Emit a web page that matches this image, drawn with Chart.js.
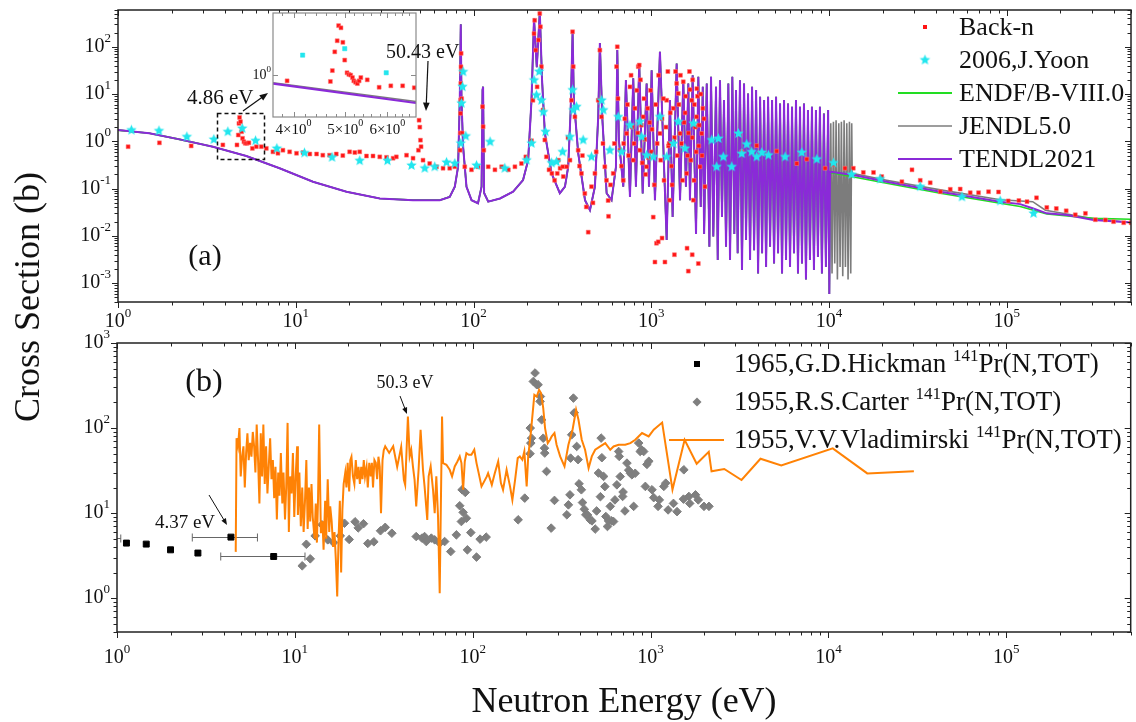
<!DOCTYPE html>
<html>
<head>
<meta charset="utf-8">
<title>141Pr total cross section</title>
<script src="https://cdn.jsdelivr.net/npm/chart.js@4.4.1/dist/chart.umd.min.js"></script>
<style>
  html, body { margin: 0; background: #fff; }
  #wrap { position: relative; width: 1136px; height: 722px; overflow: hidden;
          font-family: "Liberation Serif", "Times New Roman", serif; color: #111; }
  canvas { position: absolute; }
  #cA { left: 0; top: 0; }
  #cB { left: 0; top: 320px; }
  #cI { left: 230px; top: 0; }
  .title { position: absolute; font-size: 36px; white-space: nowrap; }
  #ytitle { left: 27px; top: 297px; transform: translate(-50%, -50%) rotate(-90deg); }
  #xtitle { left: 624px; top: 700px; transform: translate(-50%, -50%); }
</style>
</head>
<body>
<div id="wrap">
  <canvas id="cA" width="1136" height="340"></canvas>
  <canvas id="cB" width="1136" height="402"></canvas>
  <canvas id="cI" width="240" height="150"></canvas>
  <div class="title" id="ytitle">Cross Section (b)</div>
  <div class="title" id="xtitle">Neutron Energy (eV)</div>
</div>
<script>
// ---- panel (a): Back-n measurement ----
const backnE = [1.14, 1.71, 2.58, 3.89, 4.67, 4.75, 4.79, 4.83, 4.89, 4.96,
  5.02, 5.11, 5.20, 5.31, 5.45, 5.70, 6.0, 6.4, 6.83, 7.44,
  7.94, 8.47, 9.24, 10.1, 11.0, 12.0, 13.1, 14.2, 15.5, 16.9,
  18.4, 20.1, 21.5, 22.9, 25.0, 27.2, 29.7, 32.4, 35.3, 36.8,
  42, 45.7, 49.0, 49.4, 49.9, 50.3, 50.7, 52, 56.7, 61.9,
  67.4, 73.5, 78.5, 84.0, 84.3, 84.5, 84.7, 84.8, 85.0, 85.2,
  85.5, 85.8, 86.3, 89.3, 97.4, 106, 112.4, 113.3, 114.3, 121,
  132, 144, 157, 171, 186, 197, 212, 216, 219, 221,
  224, 228, 232, 236, 238, 241, 246, 252, 257, 266,
  276, 286, 296, 307, 318, 334, 349, 356, 361, 364,
  372, 388, 405, 423, 431, 442, 461, 482, 503, 514,
  525, 548, 572, 575, 611, 638, 644, 667, 696, 727,
  759, 792, 845, 856, 863, 901, 941, 980, 1000, 1026,
  1049, 1070, 1095, 1119, 1150, 1194, 1221, 1250, 1270, 1300,
  1330, 1390, 1419, 1452, 1480, 1514, 1550, 1582, 1590, 1600,
  1616, 1652, 1688, 1700, 1725, 1750, 1800, 1805, 1840, 1850,
  1880, 1922, 1950, 2005, 3230, 3920, 5080, 6590, 7500, 9510,
  10600, 12300, 13700, 15600, 17800, 19800, 25700, 29300, 32600, 37100,
  42300, 48100, 54700, 62300, 69400, 79000, 89900, 102000, 117000, 130000,
  147000, 168000, 190000, 216000, 243000, 277000, 315000, 359000, 399000, 455000,
  500000,
  300, 320, 340, 395, 410, 470, 490, 535, 560, 590,
  620, 650, 680, 700, 710, 735, 745, 770, 780, 800,
  810, 830, 840, 870, 880, 890, 910, 920, 930, 955,
  965, 990, 1010, 1040, 1060, 1080, 1100, 1130, 1170, 1180,
  1210, 1240, 1260, 1280, 1310, 1350, 1370, 1400, 1430, 1460,
  1500, 1530, 1560, 1620, 1640, 1670, 1710, 1740, 1770, 1790,
  1820, 1860, 1900, 1930, 1980, 1150, 1350, 1700];
const backnXS = [0.77, 0.93, 0.80, 0.84, 0.84, 1.36, 2.4, 3.2, 2.6, 1.6,
  1.16, 0.98, 0.91, 0.91, 0.93, 0.71, 0.77, 0.77, 0.71, 0.60,
  0.56, 0.65, 0.60, 0.56, 0.58, 0.54, 0.54, 0.51, 0.51, 0.54,
  0.50, 0.60, 0.58, 0.60, 0.49, 0.49, 0.47, 0.46, 0.44, 0.47,
  0.51, 0.44, 0.65, 2.8, 2.0, 1.06, 0.77, 0.40, 0.34, 0.29,
  0.27, 0.27, 0.29, 0.65, 1.5, 3.9, 7.5, 16.8, 37.8, 72.7,
  30, 8, 1.5, 0.29, 0.25, 0.29, 5.4, 2.04, 0.65, 0.29,
  0.25, 0.29, 0.25, 0.29, 0.34, 0.47, 1.03, 7.4, 190, 364,
  85, 14.2, 139, 505, 265, 38, 4.6, 1.07, 0.47, 0.25,
  0.21, 0.15, 0.21, 0.27, 0.29, 0.29, 0.40, 7.4, 208, 38,
  3.3, 0.65, 0.21, 0.079, 0.041, 0.012, 0.11, 0.21, 7.4, 85,
  3.3, 0.29, 0.056, 0.026, 0.21, 38, 100, 0.65, 0.15, 1.47,
  14.2, 0.40, 38, 41, 0.65, 3.3, 0.29, 2.5, 0.6, 0.025,
  0.0028, 0.007, 0.0075, 1.47, 3, 0.0028, 7.4, 0.8, 0.057, 0.3,
  5, 16.8, 10.3, 1.47, 0.9, 18.2, 4, 0.21, 0.0055, 0.5,
  0.0018, 12.4, 7.4, 1.2, 0.057, 6, 3.3, 13, 0.0026, 0.8,
  0.29, 1.47, 5, 0.11, 0.60, 0.81, 0.62, 0.34, 0.42, 0.27,
  0.32, 0.27, 0.27, 0.22, 0.22, 0.18, 0.14, 0.25, 0.15, 0.133,
  0.086, 0.097, 0.098, 0.082, 0.082, 0.086, 0.085, 0.055, 0.056, 0.053,
  0.064, 0.040, 0.038, 0.034, 0.028, 0.030, 0.022, 0.0217, 0.020, 0.019,
  0.019,
  0.4, 0.18, 1.2, 0.3, 0.5, 0.05, 0.6, 0.9, 0.15, 0.12,
  0.9, 8, 0.3, 0.9, 3, 6, 0.5, 25, 2, 0.9,
  5, 12, 1.5, 20, 2.2, 0.35, 8, 1.1, 0.2, 5,
  0.45, 12, 1.8, 0.12, 6, 0.9, 25, 0.4, 8, 0.15,
  2, 30, 0.9, 4, 0.12, 1.2, 30, 0.5, 6, 25,
  0.15, 2.5, 9, 1.5, 30, 0.4, 20, 0.15, 2, 0.6,
  9, 2.2, 10, 0.5, 3, 0.009, 0.004, 0.004];

// ---- panel (a): 2006 J.Yoon ----
const yoonE = [1.19, 1.70, 2.44, 3.46, 4.15, 5.0, 5.94, 7.83, 11.2, 16.0,
  22.9, 32.8, 44.8, 53.2, 60.5, 70.5, 78.5, 84.8, 85.6, 86.7,
  87.4, 90.5, 104, 124, 150, 199, 212, 219, 226, 234,
  241, 247, 254, 275, 293, 317, 349, 361, 364, 380,
  414, 461, 526, 537, 585, 652, 681, 759, 863, 883,
  941, 1026, 1119, 1221, 1330, 1419, 1548, 1725, 2188, 2334,
  2384, 2543, 2836, 3093, 3228, 3443, 3673, 3920, 4185, 4560,
  5660, 7030, 8540, 10600, 13400, 19400, 32600, 56000, 91900, 141600];
const yoonXS = [1.73, 1.67, 1.25, 1.10, 1.6, 1.88, 1.03, 0.71, 0.57, 0.46,
  0.39, 0.39, 0.31, 0.27, 0.29, 0.36, 0.34, 0.91, 6.4, 14.3,
  29.6, 1.29, 0.31, 0.98, 0.27, 0.40, 0.91, 19.7, 9.5, 30,
  7.4, 4.2, 1.6, 0.35, 0.37, 0.6, 1.25, 12.2, 4.6, 5.4,
  1.07, 0.47, 7.4, 4.6, 0.65, 3.3, 0.6, 2.2, 2.6, 1.25,
  0.51, 0.47, 3.3, 0.47, 0.9, 2.6, 0.71, 2.4, 1.07, 0.29,
  1.15, 0.47, 0.29, 1.47, 0.55, 0.87, 0.6, 0.47, 0.58, 0.51,
  0.47, 0.58, 0.42, 0.35, 0.2, 0.16, 0.11, 0.067, 0.055, 0.030];

// ---- panel (a): evaluations, resolved region shared by all three ----
const evalE = [1, 1.5, 2.22, 3.42, 5.27, 8.11, 12.5, 19.3, 29.7, 45.7,
  64.6, 73.5, 78.5, 81.9, 83.7, 84.8, 85.6, 87.4, 91.3, 97.5,
  106, 111, 112.4, 113.2, 114.7, 121, 141, 167, 190, 203,
  212, 219, 227, 236, 243, 252, 275, 306, 327, 341,
  352, 361, 367, 388, 424, 452, 482, 503, 514, 530,
  561, 598, 633, 644, 658, 696, 720, 759, 792, 820,
  856, 895, 942, 971, 1005, 1049, 1119, 1221, 1274, 1319,
  1390, 1452, 1514, 1567, 1616, 1651, 1710, 1786, 1840, 1898,
  1949, 1983, 2052, 2123, 2169, 2234, 2314, 2366, 2436, 2500,
  2566, 2634, 2714, 2774, 2858, 2933, 2998, 3063, 3156, 3240,
  3326, 3414, 3504, 3597, 3691, 3789, 3889, 3991, 4096, 4203,
  4313, 4426, 4542, 4661, 4783, 4908, 5036, 5168, 5304, 5442,
  5585, 5731, 5881, 6035, 6193, 6355, 6521, 6692, 6867, 7047,
  7231, 7420, 7614, 7813, 8018, 8228, 8443, 8664, 8891, 9123,
  9362, 9607, 9886, 10040];
const evalXS = [1.73, 1.48, 1.10, 0.77, 0.49, 0.27, 0.14, 0.086, 0.062, 0.057,
  0.057, 0.067, 0.11, 0.29, 7.5, 300, 7.5, 0.77, 0.11, 0.057,
  0.049, 0.11, 12.2, 14.3, 0.081, 0.053, 0.062, 0.086, 0.152, 0.40,
  7.5, 398, 37, 550, 20, 1.5, 0.21, 0.080, 0.11, 0.29,
  4.6, 207, 7.5, 0.57, 0.057, 0.035, 0.11, 3.3, 120, 3.3,
  0.080, 0.057, 0.29, 85, 1.03, 0.11, 19.7, 0.067, 21.6, 0.11,
  44.5, 0.079, 16.8, 0.11, 32, 0.057, 78.5, 0.0082, 7.5, 0.025,
  44.5, 0.057, 19.7, 0.11, 16.8, 0.057, 25, 0.011, 23.2, 0.041,
  14.2, 0.011, 16.8, 0.0059, 23.2, 0.0097, 14.2, 0.0031, 19.7, 0.025,
  7.5, 0.0059, 16.8, 0.0031, 23.2, 0.011, 12.2, 0.0043, 19.7, 0.0019,
  16.8, 0.0082, 10.3, 0.0031, 14.2, 0.0050, 12.2, 0.0016, 8.8, 0.0043,
  7.5, 0.0022, 8.8, 0.0059, 7.5, 0.0026, 8.8, 0.0043, 6.3, 0.0016,
  7.5, 0.0031, 6.3, 0.0022, 5.4, 0.0043, 7.5, 0.0016, 5.4, 0.0026,
  6.3, 0.0012, 4.6, 0.0031, 5.4, 0.0019, 4.6, 0.0036, 5.4, 0.0016,
  3.9, 0.0022, 4.6, 0.00059];

// JENDL-5.0 resolved range goes further
const jendlResE = [10230, 10400, 10590, 10770, 10960, 11150, 11350, 11540, 11740,
  11950, 12160, 12370, 12590, 12800, 13030, 13250, 13420];
const jendlResXS = [2.4, 0.0016, 2.6, 0.0026, 2.8, 0.0012, 2.4, 0.0022, 2.6,
  0.0014, 2.8, 0.0022, 2.4, 0.0012, 2.6, 0.0016, 2.4];

// unresolved / smooth tails
const tendlTailE = [10140, 13700, 21100, 42300, 91900, 119000, 141000, 168000, 218000, 308000, 515000];
const tendlTailXS = [0.228, 0.194, 0.14, 0.086, 0.053, 0.047, 0.038, 0.030, 0.0277, 0.0217, 0.019];
const endfTailE = [10140, 21100, 42300, 91900, 119000, 168000, 308000, 515000];
const endfTailXS = [0.22, 0.13, 0.080, 0.049, 0.042, 0.029, 0.0235, 0.0224];
const jendlTailE = [13500, 21100, 42300, 91900, 140000, 165000, 218000, 308000, 515000];
const jendlTailXS = [0.21, 0.15, 0.094, 0.058, 0.053, 0.035, 0.029, 0.023, 0.019];

// ---- inset (4.86 eV resonance) ----
const insetBacknE = [3.89, 4.69, 4.73, 4.78, 4.83, 4.86, 4.91, 4.95, 4.99, 5.04, 5.08, 5.12,
  5.16, 5.19, 5.23, 5.27, 5.31, 5.35, 5.5, 5.79, 6.09, 6.41, 6.74];
const insetBacknXS = [0.855, 0.84, 1.15, 1.98, 2.73, 4.23, 3.97, 2.61, 1.56, 1.08, 1.03, 1.01,
  0.94, 0.855, 0.82, 0.79, 0.855, 0.94, 0.88, 0.71, 0.74, 0.74, 0.70];
const insetYoonE = [4.16, 4.99, 5.97];
const insetYoonXS = [1.8, 2.17, 1.08];
const insetTendlE = [3.66, 6.79];
const insetTendlXS = [0.79, 0.45];
const insetJendlE = [3.66, 6.79];
const insetJendlXS = [0.81, 0.47];
const insetTicks = [4, 5, 6];

// ---- panel (b): older measurements ----
const hickmanE = [0.7, 1.13, 1.46, 2.0, 2.85, 4.37, 7.6];
const hickmanXS = [5.08, 4.44, 4.32, 3.70, 3.39, 5.22, 3.09];
const hickmanElo = [0.45, null, null, null, null, 2.65, 3.83];
const hickmanEhi = [1.05, null, null, null, null, 6.16, 11.4];

const carterE = [11.0, 11.6, 12.2, 13.0, 14.2, 15.3, 16.5, 18.0, 19.0, 20.2,
  21.8, 22.7, 24.3, 25.7, 27.8, 30.3, 32.2, 35.1, 48.1, 51.8,
  53.6, 54.8, 58.5, 61.1, 65.2, 69.5, 75.2, 80.9, 84.5, 86.3,
  87.1, 88.3, 90.8, 92.1, 93.3, 97.5, 105, 110, 119, 180,
  196, 210, 210.5, 212, 214, 219, 224, 229, 233, 239,
  240, 244, 249, 253, 254, 260, 276, 288, 338, 345,
  352, 355, 360, 368, 372, 384, 391, 396, 408, 414,
  424, 432, 442, 457, 468, 488, 497, 509, 522, 527,
  532, 544, 553, 560, 572, 580, 593, 604, 619, 630,
  646, 661, 666, 675, 696, 700, 717, 736, 753, 770,
  785, 803, 819, 857, 874, 890, 914, 934, 953, 977,
  1018, 1041, 1101, 1119, 1186, 1216, 1254, 1344, 1408, 1530,
  1537, 1641, 1658, 1787, 1853, 1995, 2128];
const carterXS = [2.4, 4.3, 2.9, 5.4, 7.3, 4.85, 4.5, 5.4, 7.6, 4.9,
  7.9, 6.7, 7.5, 4.4, 4.6, 6.2, 6.8, 5.8, 5.3, 5.08,
  5.3, 4.63, 5.08, 4.85, 4.44, 4.63, 3.53, 5.55, 12.2, 7.96,
  18.8, 10.2, 17.5, 8.7, 3.7, 5.9, 3.04, 4.94, 5.22, 8.34,
  15.0, 49.9, 100, 66.5, 76, 353, 444, 323, 323, 206,
  235, 125, 76, 58, 50.8, 30.9, 6.66, 14.1, 9.55, 12.5,
  16.4, 44.3, 83.4, 225, 151, 60.8, 42.5, 22.1, 18.8, 13.3,
  11.1, 9.55, 9.5, 8.34, 8.1, 6.49, 10.6, 29.6, 15.6, 76.2,
  44.8, 27, 20.5, 9.12, 6.96, 8.1, 12, 8.1, 7.96, 14.3,
  21.5, 53, 46.4, 26.9, 15.7, 17.7, 10.6, 38.7, 32, 29.4,
  28.2, 12, 29.4, 66.6, 53, 55.5, 53, 20.6, 37.4, 40.7,
  18.8, 15.2, 12, 14.3, 20.6, 22.5, 10.9, 13, 10.4, 14.6,
  32.3, 15.7, 13, 16.4, 14.3, 12, 12];

const vladE = [4.65, 4.70, 4.79, 4.88, 4.96, 5.05, 5.14, 5.23, 5.32, 5.41,
  5.50, 5.60, 5.70, 5.80, 5.90, 6.00, 6.10, 6.21, 6.32, 6.43,
  6.54, 6.65, 6.77, 6.89, 7.01, 7.13, 7.26, 7.39, 7.52, 7.65,
  7.78, 7.92, 8.06, 8.20, 8.34, 8.50, 8.63, 8.80, 8.94, 9.10,
  9.25, 9.40, 9.58, 9.75, 9.92, 10.1, 10.3, 10.4, 10.6, 10.8,
  11.0, 11.2, 11.4, 11.6, 11.8, 12.0, 12.2, 12.4, 12.6, 12.9,
  13.1, 13.3, 13.5, 13.7, 14.0, 14.3, 14.5, 14.8, 15.0, 15.3,
  15.6, 15.8, 16.1, 16.4, 16.7, 17.0, 17.3, 17.6, 17.9, 18.2,
  18.5, 18.8, 19.2, 19.5, 19.8, 20.2, 20.5, 20.8, 21.2, 21.6,
  22.0, 22.4, 22.8, 23.2, 23.6, 24.0, 24.4, 24.8, 25.3, 25.7,
  26.2, 26.7, 27.1, 27.5, 28.0, 28.5, 29.0, 29.5, 30.0, 30.5,
  31.1, 31.6, 32.2, 33.9, 35.7, 37.6, 39.6, 41.0, 41.7, 43.2,
  44.2, 45.1, 46.1, 47.1, 48.1, 49.6, 50.9, 52.5, 53.6, 55.5,
  56.5, 58.0, 59.8, 61.1, 62.4, 63.8, 65.2, 67.2, 68.1, 71.1,
  74.2, 76.5, 79.2, 82.0, 84.5, 86.4, 88.3, 90.2, 92.1, 95.0,
  98.3, 102, 105, 108, 112, 116, 120, 122, 128, 133,
  139, 144, 148, 155, 162, 167, 173, 179, 184, 190,
  195, 201, 205, 212, 222, 229, 236, 242, 249, 255,
  264, 272, 278, 288, 296, 310, 328, 345, 364, 381,
  393, 410, 428, 448, 467, 488, 521, 556, 593, 619,
  661, 720, 769, 820, 895, 975, 1041, 1161, 1327, 1553,
  1815, 2123, 2200, 2594, 3244, 4146, 5425, 10570, 16520, 30200];
const vladXS = [3.5, 76, 61, 100, 27, 46, 61, 20, 51, 87,
  42, 67, 46, 90, 61, 30, 110, 42, 13, 87,
  27, 110, 22, 61, 17, 35, 76, 25, 42, 15,
  35, 8.4, 30, 16, 51, 13, 30, 8.4, 20, 115,
  6, 27, 17, 51, 9, 27, 61, 9.5, 30, 7,
  20, 6, 14, 42, 6.5, 20, 8, 22, 9, 5,
  13, 4.5, 15, 110, 5.8, 8, 3.7, 14, 5, 25,
  6, 12, 8, 4, 6, 2.8, 1.05, 5, 14, 2,
  11, 22, 30, 20, 39, 18, 42, 46, 27, 22,
  42, 25, 35, 22, 35, 25, 42, 27, 35, 20,
  39, 27, 39, 20, 42, 39, 25, 46, 35, 10,
  42, 55, 61, 51, 61, 35, 60, 24.6, 21.5, 137,
  46.4, 55.6, 35.4, 24.6, 12, 32.3, 95.6, 32.3, 20.6, 8.3,
  27, 35.4, 18.8, 10, 27, 9.1, 1.14, 137, 38.7, 37,
  32.3, 27, 35.4, 40.5, 46.4, 38.7, 18.8, 40.5, 50.7, 48.5,
  48.5, 55.6, 38.7, 29.5, 20.6, 23.6, 27, 29.5, 21.5, 29.5,
  40.5, 22.5, 18.8, 32.3, 20.6, 14.3, 24.6, 44.3, 46.4, 42.4,
  53.1, 20.6, 46.4, 87.3, 246, 235, 282, 258, 172, 100,
  66.5, 72.8, 79.8, 87.3, 63.6, 46.4, 35.4, 63.6, 95.6, 164,
  125, 72.8, 55.6, 33.8, 46.4, 55.6, 60.8, 66.5, 55.6, 60.8,
  63.6, 63.6, 66.5, 72.8, 87.3, 79.8, 95.6, 116, 18.9, 72.8,
  38, 52.6, 31, 33, 24.5, 43.6, 36.3, 57.7, 29.3, 31];

// axis decades
const xDecades = [0, 1, 2, 3, 4, 5];
const yDecadesA = [-3, -2, -1, 0, 1, 2];
const yDecadesB = [0, 1, 2, 3];

const SERIF = '"Liberation Serif", "Times New Roman", serif';
const RED = '#ff1414', CYAN = '#22e6ee', GREEN = '#22dd22', GRAY = '#7c7c7c',
      PURPLE = '#8a2ad8', ORANGE = '#ff8205', DIAMOND = '#7f7f7f';

Chart.defaults.font.family = SERIF;
Chart.defaults.animation = false;

const pairs = (xs, ys) => xs.map((x, i) => ({ x, y: ys[i] }));

function starImage(r, color) {
  const c = document.createElement('canvas');
  const s = Math.ceil(r * 2 + 2);
  c.width = c.height = s;
  const g = c.getContext('2d');
  g.fillStyle = color;
  g.beginPath();
  for (let i = 0; i < 10; i++) {
    const a = -Math.PI / 2 + i * Math.PI / 5, rr = i % 2 ? r * 0.45 : r;
    g.lineTo(s / 2 + rr * Math.cos(a), s / 2 + rr * Math.sin(a));
  }
  g.closePath();
  g.fill();
  return c;
}
const star = starImage(5.5, CYAN);

function logTicks(min, max) {
  const out = [];
  for (let p = Math.floor(Math.log10(min)); p <= Math.ceil(Math.log10(max)); p++)
    for (let m = 1; m < 10; m++) {
      const v = m * Math.pow(10, p);
      if (v >= min * 0.999 && v <= max * 1.001) out.push([v, m === 1]);
    }
  return out;
}

// "10" with a raised exponent
function powLabel(ctx, head, exp, x, y, align, big, small) {
  ctx.font = `${big}px ${SERIF}`;
  const w1 = ctx.measureText(head).width;
  ctx.font = `${small}px ${SERIF}`;
  const w2 = ctx.measureText(exp).width;
  const left = align === 'center' ? x - (w1 + w2) / 2 : align === 'right' ? x - w1 - w2 : x;
  ctx.textAlign = 'left';
  ctx.textBaseline = 'middle';
  ctx.font = `${big}px ${SERIF}`;
  ctx.fillText(head, left, y);
  ctx.font = `${small}px ${SERIF}`;
  ctx.fillText(exp, left + w1, y - big * 0.42);
}

// legend text like "1965,G.D.Hickman ^141Pr(N,TOT)"
function supText(ctx, before, sup, after, x, y, big, small) {
  ctx.textAlign = 'left';
  ctx.textBaseline = 'middle';
  ctx.font = `${big}px ${SERIF}`;
  ctx.fillText(before, x, y);
  let cx = x + ctx.measureText(before).width;
  ctx.font = `${small}px ${SERIF}`;
  ctx.fillText(sup, cx, y - big * 0.32);
  cx += ctx.measureText(sup).width;
  ctx.font = `${big}px ${SERIF}`;
  ctx.fillText(after, cx, y);
}

function arrow(ctx, x1, y1, x2, y2, head) {
  const a = Math.atan2(y2 - y1, x2 - x1);
  ctx.beginPath();
  ctx.moveTo(x1, y1);
  ctx.lineTo(x2 - Math.cos(a) * head * 0.7, y2 - Math.sin(a) * head * 0.7);
  ctx.stroke();
  ctx.beginPath();
  ctx.moveTo(x2, y2);
  ctx.lineTo(x2 - head * Math.cos(a - 0.38), y2 - head * Math.sin(a - 0.38));
  ctx.lineTo(x2 - head * Math.cos(a + 0.38), y2 - head * Math.sin(a + 0.38));
  ctx.closePath();
  ctx.fill();
}

// box, mirrored ticks and power-of-ten labels
const frame = {
  id: 'frame',
  afterDraw(chart, _args, o) {
    const { ctx, chartArea: a } = chart;
    const x = chart.scales.x, y = chart.scales.y;
    ctx.save();
    ctx.strokeStyle = '#222';
    ctx.lineWidth = 1;
    ctx.beginPath();
    for (const [v, major] of logTicks(x.min, x.max)) {
      const p = Math.round(x.getPixelForValue(v)) + 0.5, L = major ? 6 : 3.5;
      ctx.moveTo(p, a.bottom); ctx.lineTo(p, a.bottom + L);
      ctx.moveTo(p, a.top); ctx.lineTo(p, a.top + L);
    }
    for (const [v, major] of logTicks(y.min, y.max)) {
      const p = Math.round(y.getPixelForValue(v)) + 0.5, L = major ? 6 : 3.5;
      ctx.moveTo(a.left - L, p); ctx.lineTo(a.left, p);
      ctx.moveTo(a.right - L, p); ctx.lineTo(a.right, p);
    }
    ctx.stroke();
    ctx.lineWidth = 1.5;
    ctx.strokeRect(a.left, a.top, a.right - a.left, a.bottom - a.top);
    ctx.fillStyle = '#111';
    for (const d of o.xDecades)
      powLabel(ctx, '10', String(d), x.getPixelForValue(Math.pow(10, d)), a.bottom + o.xGap, 'center', 20, 13);
    for (const d of o.yDecades)
      powLabel(ctx, '10', String(d), a.left - 7, y.getPixelForValue(Math.pow(10, d)), 'right', 20, 13);
    ctx.restore();
  }
};

const notesA = {
  id: 'notesA',
  afterDraw(chart) {
    const ctx = chart.ctx;
    ctx.save();
    ctx.strokeStyle = '#111';
    ctx.fillStyle = '#111';
    ctx.lineWidth = 1.5;
    ctx.setLineDash([4, 3]);
    ctx.strokeRect(217.5, 113.5, 47, 46);
    ctx.setLineDash([]);
    ctx.lineWidth = 1.2;
    arrow(ctx, 243, 111, 268, 93, 9);
    arrow(ctx, 428, 61, 426, 111, 9);
    ctx.textBaseline = 'middle';
    ctx.textAlign = 'left';
    ctx.font = `21px ${SERIF}`;
    ctx.fillText('4.86 eV', 187, 98);
    ctx.textAlign = 'center';
    ctx.font = `30px ${SERIF}`;
    ctx.fillText('(a)', 205, 257);

    // legend
    const rows = [27, 60, 93, 126, 159];
    ctx.fillStyle = RED;
    ctx.fillRect(923, rows[0] - 2, 4, 4);
    ctx.drawImage(star, 925 - star.width / 2, rows[1] - star.height / 2);
    [[GREEN, 2], [GRAY, 1.6], [PURPLE, 2]].forEach(([c, w], i) => {
      ctx.strokeStyle = c; ctx.lineWidth = w;
      ctx.beginPath(); ctx.moveTo(898, rows[i + 2]); ctx.lineTo(952, rows[i + 2]); ctx.stroke();
    });
    ctx.fillStyle = '#111';
    ctx.textAlign = 'left';
    ctx.font = `26px ${SERIF}`;
    ['Back-n', '2006,J.Yoon', 'ENDF/B-VIII.0', 'JENDL5.0', 'TENDL2021']
      .forEach((t, i) => ctx.fillText(t, 959, rows[i] + 1));
    ctx.restore();
  }
};

const hickmanBars = {
  id: 'hickmanBars',
  beforeDatasetsDraw(chart) {
    const { ctx, chartArea: a, scales: { x, y } } = chart;
    ctx.save();
    ctx.beginPath();
    ctx.rect(a.left, a.top, a.right - a.left, a.bottom - a.top);
    ctx.clip();
    ctx.strokeStyle = '#666';
    ctx.lineWidth = 1;
    ctx.beginPath();
    hickmanE.forEach((e, i) => {
      if (hickmanElo[i] == null) return;
      const py = Math.round(y.getPixelForValue(hickmanXS[i])) + 0.5;
      const p1 = x.getPixelForValue(hickmanElo[i]), p2 = x.getPixelForValue(hickmanEhi[i]);
      ctx.moveTo(p1, py); ctx.lineTo(p2, py);
      ctx.moveTo(p1, py - 4); ctx.lineTo(p1, py + 4);
      ctx.moveTo(p2, py - 4); ctx.lineTo(p2, py + 4);
    });
    ctx.stroke();
    ctx.restore();
  }
};

// panel (b) notes, written in page coordinates (canvas sits 320px down)
const notesB = {
  id: 'notesB',
  afterDraw(chart) {
    const ctx = chart.ctx;
    ctx.save();
    ctx.translate(0, -320);
    ctx.fillStyle = '#111';
    ctx.strokeStyle = '#111';
    ctx.textBaseline = 'middle';
    ctx.textAlign = 'center';
    ctx.font = `32px ${SERIF}`;
    ctx.fillText('(b)', 204, 383);
    ctx.font = `18px ${SERIF}`;
    ctx.fillText('50.3 eV', 405, 383);
    ctx.font = `19px ${SERIF}`;
    ctx.fillText('4.37 eV', 185, 523);
    ctx.lineWidth = 1;
    arrow(ctx, 400, 396, 407, 414, 7);
    arrow(ctx, 209, 495, 227, 525, 7);

    // legend
    const rows = [364, 402, 440];
    ctx.fillStyle = '#000';
    ctx.fillRect(694, rows[0] - 3, 6, 6);
    ctx.fillStyle = DIAMOND;
    ctx.beginPath();
    ctx.moveTo(697, rows[1] - 4.5); ctx.lineTo(701.5, rows[1]);
    ctx.lineTo(697, rows[1] + 4.5); ctx.lineTo(692.5, rows[1]);
    ctx.closePath(); ctx.fill();
    ctx.strokeStyle = ORANGE;
    ctx.lineWidth = 2;
    ctx.beginPath(); ctx.moveTo(669, rows[2]); ctx.lineTo(724, rows[2]); ctx.stroke();
    ctx.fillStyle = '#111';
    supText(ctx, '1965,G.D.Hickman ', '141', 'Pr(N,TOT)', 734, rows[0] + 1, 27, 17);
    supText(ctx, '1955,R.S.Carter ', '141', 'Pr(N,TOT)', 734, rows[1] + 1, 27, 17);
    supText(ctx, '1955,V.V.Vladimirski ', '141', 'Pr(N,TOT)', 734, rows[2] + 1, 27, 17);
    ctx.restore();
  }
};

// inset frame, written in page coordinates (canvas sits 230px right)
const insetFrame = {
  id: 'insetFrame',
  beforeDraw(chart) {
    const { ctx, chartArea: a } = chart;
    ctx.save();
    ctx.fillStyle = '#fff';
    ctx.fillRect(a.left, a.top, a.right - a.left, a.bottom - a.top);
    ctx.restore();
  },
  afterDraw(chart) {
    const { ctx, chartArea: a, scales: { x, y } } = chart;
    ctx.save();
    ctx.strokeStyle = '#8a8a8a';
    ctx.lineWidth = 1;
    ctx.beginPath();
    for (let v = 3.8; v < 6.75; v += 0.2) {
      const p = Math.round(x.getPixelForValue(v)) + 0.5;
      const L = Math.abs(v - Math.round(v)) < 0.01 ? 5 : 3;
      ctx.moveTo(p, a.top); ctx.lineTo(p, a.top + L);
      ctx.moveTo(p, a.bottom); ctx.lineTo(p, a.bottom - L);
    }
    const py = Math.round(y.getPixelForValue(1)) + 0.5;
    ctx.moveTo(a.left, py); ctx.lineTo(a.left + 5, py);
    ctx.moveTo(a.right, py); ctx.lineTo(a.right - 5, py);
    ctx.stroke();
    ctx.lineWidth = 1.2;
    ctx.strokeRect(a.left, a.top, a.right - a.left, a.bottom - a.top);
    ctx.fillStyle = '#111';
    insetTicks.forEach(v => powLabel(ctx, v + '×10', '0', x.getPixelForValue(v), a.bottom + 13, 'center', 15, 10));
    powLabel(ctx, '10', '0', a.left - 2, y.getPixelForValue(1), 'right', 14, 9);
    // the 50.43 eV note of panel (a) sits over the inset's right edge
    ctx.translate(-230, 0);
    ctx.textAlign = 'left';
    ctx.textBaseline = 'middle';
    ctx.font = `20px ${SERIF}`;
    ctx.fillText('50.43 eV', 386, 53);
    ctx.restore();
  }
};

const lineDs = (label, data, color, width, order) => ({
  label, data, showLine: true, borderColor: color, borderWidth: width,
  pointRadius: 0, pointHoverRadius: 0, fill: false, tension: 0, order
});

const axes = (xMin, xMax, yMin, yMax, xh, yw) => ({
  x: { type: 'logarithmic', min: xMin, max: xMax, ticks: { display: false },
       grid: { display: false }, border: { display: false }, afterFit(s) { s.height = xh; } },
  y: { type: 'logarithmic', min: yMin, max: yMax, ticks: { display: false },
       grid: { display: false }, border: { display: false }, afterFit(s) { s.width = yw; } }
});

// panel (a)
new Chart(document.getElementById('cA'), {
  type: 'scatter',
  data: {
    datasets: [
      { label: '2006,J.Yoon', data: pairs(yoonE, yoonXS), pointStyle: star, order: 0 },
      { label: 'Back-n', data: pairs(backnE, backnXS), pointStyle: 'rect', pointRadius: 2.8,
        pointBackgroundColor: RED, pointBorderColor: 'rgba(255,120,120,0.55)', pointBorderWidth: 1, order: 1 },
      lineDs('TENDL2021', pairs(evalE, evalXS).concat(pairs(tendlTailE, tendlTailXS)), PURPLE, 2, 2),
      lineDs('ENDF/B-VIII.0', pairs(evalE, evalXS).concat(pairs(endfTailE, endfTailXS)), GREEN, 1.6, 3),
      lineDs('JENDL5.0', pairs(evalE, evalXS).concat(pairs(jendlResE, jendlResXS), pairs(jendlTailE, jendlTailXS)), GRAY, 1.6, 4)
    ]
  },
  options: {
    responsive: false, devicePixelRatio: 1, events: [],
    layout: { padding: { top: 10, right: 5, left: 0, bottom: 0 } },
    plugins: { legend: { display: false }, tooltip: { enabled: false },
      frame: { xDecades, yDecades: yDecadesA, xGap: 20 } },
    scales: axes(1, 5e5, 4e-4, 600, 38, 118)
  },
  plugins: [frame, notesA]
});

// inset
new Chart(document.getElementById('cI'), {
  type: 'scatter',
  data: {
    datasets: [
      { label: 'Yoon', data: pairs(insetYoonE, insetYoonXS), pointStyle: 'rect', pointRadius: 3,
        pointBackgroundColor: CYAN, pointBorderColor: 'rgba(34,230,238,0.5)', order: 0 },
      { label: 'Back-n', data: pairs(insetBacknE, insetBacknXS), pointStyle: 'rect', pointRadius: 2.8,
        pointBackgroundColor: RED, pointBorderColor: 'rgba(255,120,120,0.55)', pointBorderWidth: 1, order: 1 },
      lineDs('TENDL', pairs(insetTendlE, insetTendlXS), PURPLE, 2.2, 2),
      lineDs('JENDL', pairs(insetJendlE, insetJendlXS), GRAY, 1.6, 3)
    ]
  },
  options: {
    responsive: false, devicePixelRatio: 1, events: [],
    layout: { padding: { top: 13, right: 54, left: 0, bottom: 0 } },
    plugins: { legend: { display: false }, tooltip: { enabled: false } },
    scales: axes(3.66, 6.79, 0.32, 6.1, 33, 43)
  },
  plugins: [insetFrame]
});

// panel (b)
new Chart(document.getElementById('cB'), {
  type: 'scatter',
  data: {
    datasets: [
      { label: '1965,G.D.Hickman', data: pairs(hickmanE, hickmanXS), pointStyle: 'rect', pointRadius: 4.2,
        pointBackgroundColor: '#000', pointBorderColor: '#000', order: 0 },
      { label: '1955,R.S.Carter', data: pairs(carterE, carterXS), pointStyle: 'rectRot', pointRadius: 4.3,
        pointBackgroundColor: DIAMOND, pointBorderColor: DIAMOND, order: 2 },
      lineDs('1955,V.V.Vladimirski', pairs(vladE, vladXS), ORANGE, 2, 1)
    ]
  },
  options: {
    responsive: false, devicePixelRatio: 1, events: [],
    layout: { padding: { top: 23, right: 5, left: 0, bottom: 0 } },
    plugins: { legend: { display: false }, tooltip: { enabled: false },
      frame: { xDecades, yDecades: yDecadesB, xGap: 26 } },
    scales: axes(1, 5e5, 0.4, 1000, 90, 117)
  },
  plugins: [frame, hickmanBars, notesB]
});
</script>
</body>
</html>
